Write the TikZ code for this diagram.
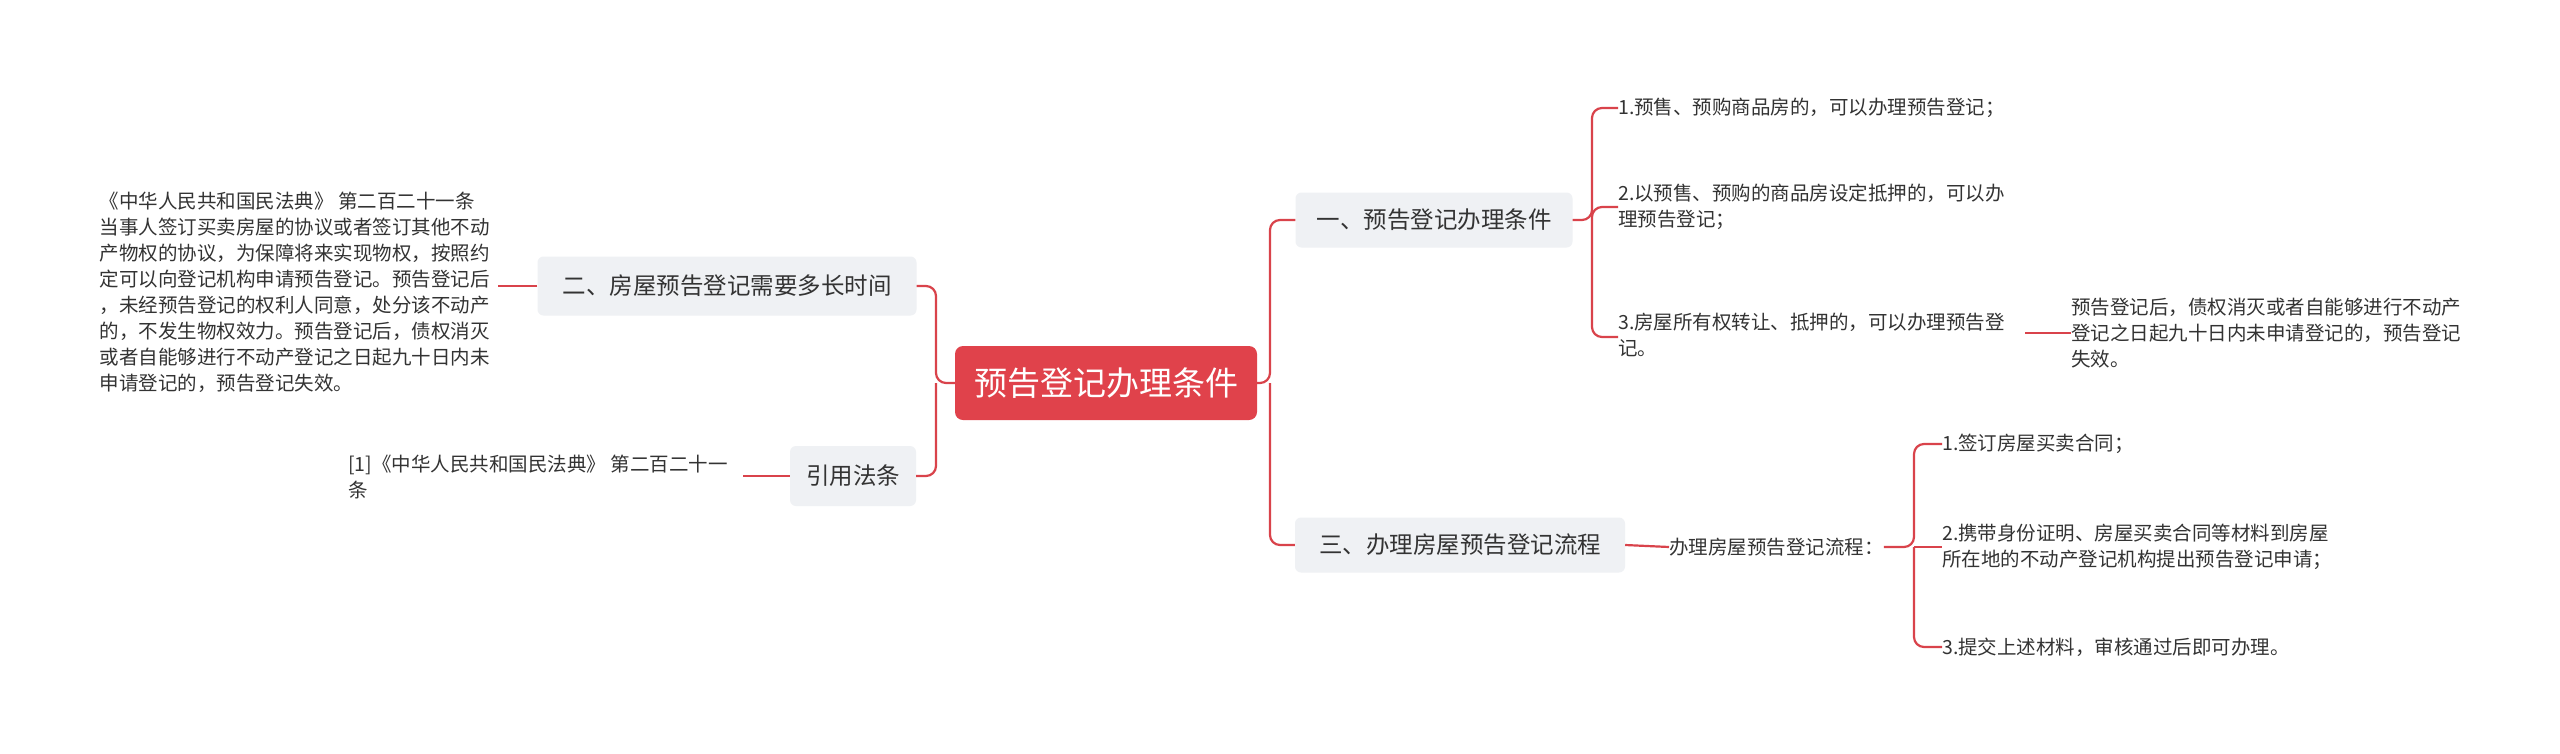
\documentclass[tikz,border=0pt]{standalone}
\usepackage{fontspec}
\setmainfont{Noto Sans CJK SC}
\begin{document}
\begin{tikzpicture}[x=1pt,y=-1pt,
  line/.style={draw=linered,line width=2.2pt,rounded corners=10pt},
  branch/.style={fill=branchbg,rounded corners=6pt,text=txt,font=\fontsize{23.5}{28}\selectfont,inner sep=0pt},
  leaf/.style={text=txt,font=\fontsize{19.5}{26}\selectfont,align=left,inner sep=0pt},
]
\definecolor{linered}{HTML}{D9434B}
\definecolor{centerred}{HTML}{E0424B}
\definecolor{branchbg}{HTML}{EFF1F4}
\definecolor{txt}{HTML}{333333}
\useasboundingbox[fill=white] (0,0) rectangle (2560,753);

\node[fill=centerred,rounded corners=8pt,text=white,font=\fontsize{33}{38}\selectfont,minimum width=302pt,minimum height=74pt,inner sep=0pt] (c) at (1106,383) {预告登记办理条件};

\node[branch,minimum width=277pt,minimum height=55pt] (b1) at (1434,220) {一、预告登记办理条件};
\node[branch,minimum width=330pt,minimum height=55pt] (b3) at (1460,545) {三、办理房屋预告登记流程};
\node[branch,minimum width=379pt,minimum height=59pt] (b2) at (727,286) {二、房屋预告登记需要多长时间};
\node[branch,minimum width=126pt,minimum height=60pt] (b4) at (853,476) {引用法条};

\node[leaf,anchor=west] (l1) at (1618,108) {1.预售、预购商品房的，可以办理预告登记；};
\node[leaf,anchor=west] (l2) at (1618,207) {2.以预售、预购的商品房设定抵押的，可以办\\理预告登记；};
\node[leaf,anchor=west] (l3) at (1618,335) {3.房屋所有权转让、抵押的，可以办理预告登\\记。};
\node[leaf,anchor=west] (l3a) at (2071,333) {预告登记后，债权消灭或者自能够进行不动产\\登记之日起九十日内未申请登记的，预告登记\\失效。};

\node[leaf,anchor=west] (p) at (1669,547) {办理房屋预告登记流程：};
\node[leaf,anchor=west] (q1) at (1942,444) {1.签订房屋买卖合同；};
\node[leaf,anchor=west] (q2) at (1942,547) {2.携带身份证明、房屋买卖合同等材料到房屋\\所在地的不动产登记机构提出预告登记申请；};
\node[leaf,anchor=west] (q3) at (1942,647) {3.提交上述材料，审核通过后即可办理。};

\node[leaf,anchor=east] (lp) at (490,292) {《中华人民共和国民法典》 第二百二十一条\\当事人签订买卖房屋的协议或者签订其他不动\\产物权的协议，为保障将来实现物权，按照约\\定可以向登记机构申请预告登记。预告登记后\\，未经预告登记的权利人同意，处分该不动产\\的，不发生物权效力。预告登记后，债权消灭\\或者自能够进行不动产登记之日起九十日内未\\申请登记的，预告登记失效。};
\node[leaf,anchor=west] (lr) at (348,477) {[1]《中华人民共和国民法典》 第二百二十一\\条};

\coordinate (cr) at (1270,383);
\draw[line] (c.east) -- (cr) |- (b1.west);
\draw[line] (cr) |- (b3.west);
\coordinate (cl) at (936,383);
\draw[line] (c.west) -- (cl) |- (b2.east);
\draw[line] (cl) |- (b4.east);

\coordinate (k1) at (1592,220);
\draw[line] (b1.east) -- (k1) |- (l1.west);
\draw[line] (k1) |- (l2.west);
\draw[line] (k1) |- ([yshift=-2pt]l3.west);
\draw[line] (2025,333) -- (l3a.west);
\draw[line] (b3.east) -- (p.west);
\coordinate (k2) at (1914,547);
\draw[line] (p.east) -- (k2) |- (q1.west);
\draw[line] (k2) -- (q2.west);
\draw[line] (k2) |- (q3.west);
\draw[line] (b2.west) -- (498,286);
\draw[line] (b4.west) -- (743,476);
\end{tikzpicture}
\end{document}
